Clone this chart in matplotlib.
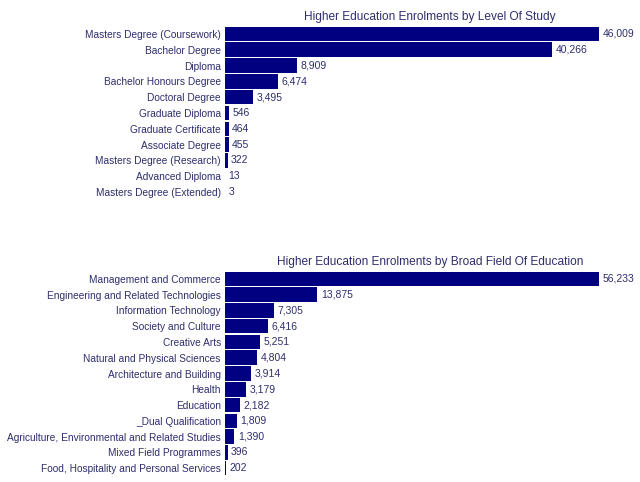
import matplotlib.pyplot as plt

plt.rcParams['font.family'] = ['Liberation Sans', 'DejaVu Sans']

level_labels = ['Masters Degree (Coursework)', 'Bachelor Degree', 'Diploma',
                'Bachelor Honours Degree', 'Doctoral Degree', 'Graduate Diploma',
                'Graduate Certificate', 'Associate Degree', 'Masters Degree (Research)',
                'Advanced Diploma', 'Masters Degree (Extended)']
level_values = [46009, 40266, 8909, 6474, 3495, 546, 464, 455, 322, 13, 3]

field_labels = ['Management and Commerce', 'Engineering and Related Technologies',
                'Information Technology', 'Society and Culture', 'Creative Arts',
                'Natural and Physical Sciences', 'Architecture and Building', 'Health',
                'Education', '_Dual Qualification',
                'Agriculture, Environmental and Related Studies',
                'Mixed Field Programmes', 'Food, Hospitality and Personal Services']
field_values = [56233, 13875, 7305, 6416, 5251, 4804, 3914, 3179, 2182, 1809, 1390, 396, 202]

bar_color = '#000080'
text_color = '#2e2e6e'

W, H = 640, 482
fig = plt.figure(figsize=(6.4, 4.82), dpi=100)


def draw(rect, labels, values, title):
    left, top, right, bottom = rect
    ax = fig.add_axes([left / W, 1 - bottom / H, (right - left) / W, (bottom - top) / H])
    y = list(range(len(labels)))
    ax.barh(y, values, height=0.92, color=bar_color)
    ax.set_ylim(len(labels) - 0.5, -0.5)
    # longest bar ends at x=599, the axes run on to 635
    ax.set_xlim(0, max(values) * (right - left) / (599 - left))
    ax.set_yticks(y)
    ax.set_yticklabels(labels, fontsize=7.3, color=text_color)
    ax.tick_params(axis='y', length=0, pad=3)
    ax.set_xticks([])
    for s in ax.spines.values():
        s.set_visible(False)
    for yi, v in zip(y, values):
        ax.annotate(f'{v:,}', (v, yi), xytext=(2.5, 0), textcoords='offset points',
                    va='center', ha='left', fontsize=7.5, color=text_color)
    ax.set_title(title, fontsize=8.6, color=text_color, pad=4)
    return ax


draw((225, 26, 635, 200), level_labels, level_values,
     'Higher Education Enrolments by Level Of Study')
draw((225, 271, 635, 476), field_labels, field_values,
     'Higher Education Enrolments by Broad Field Of Education')

fig.savefig('out.png', dpi=100)
